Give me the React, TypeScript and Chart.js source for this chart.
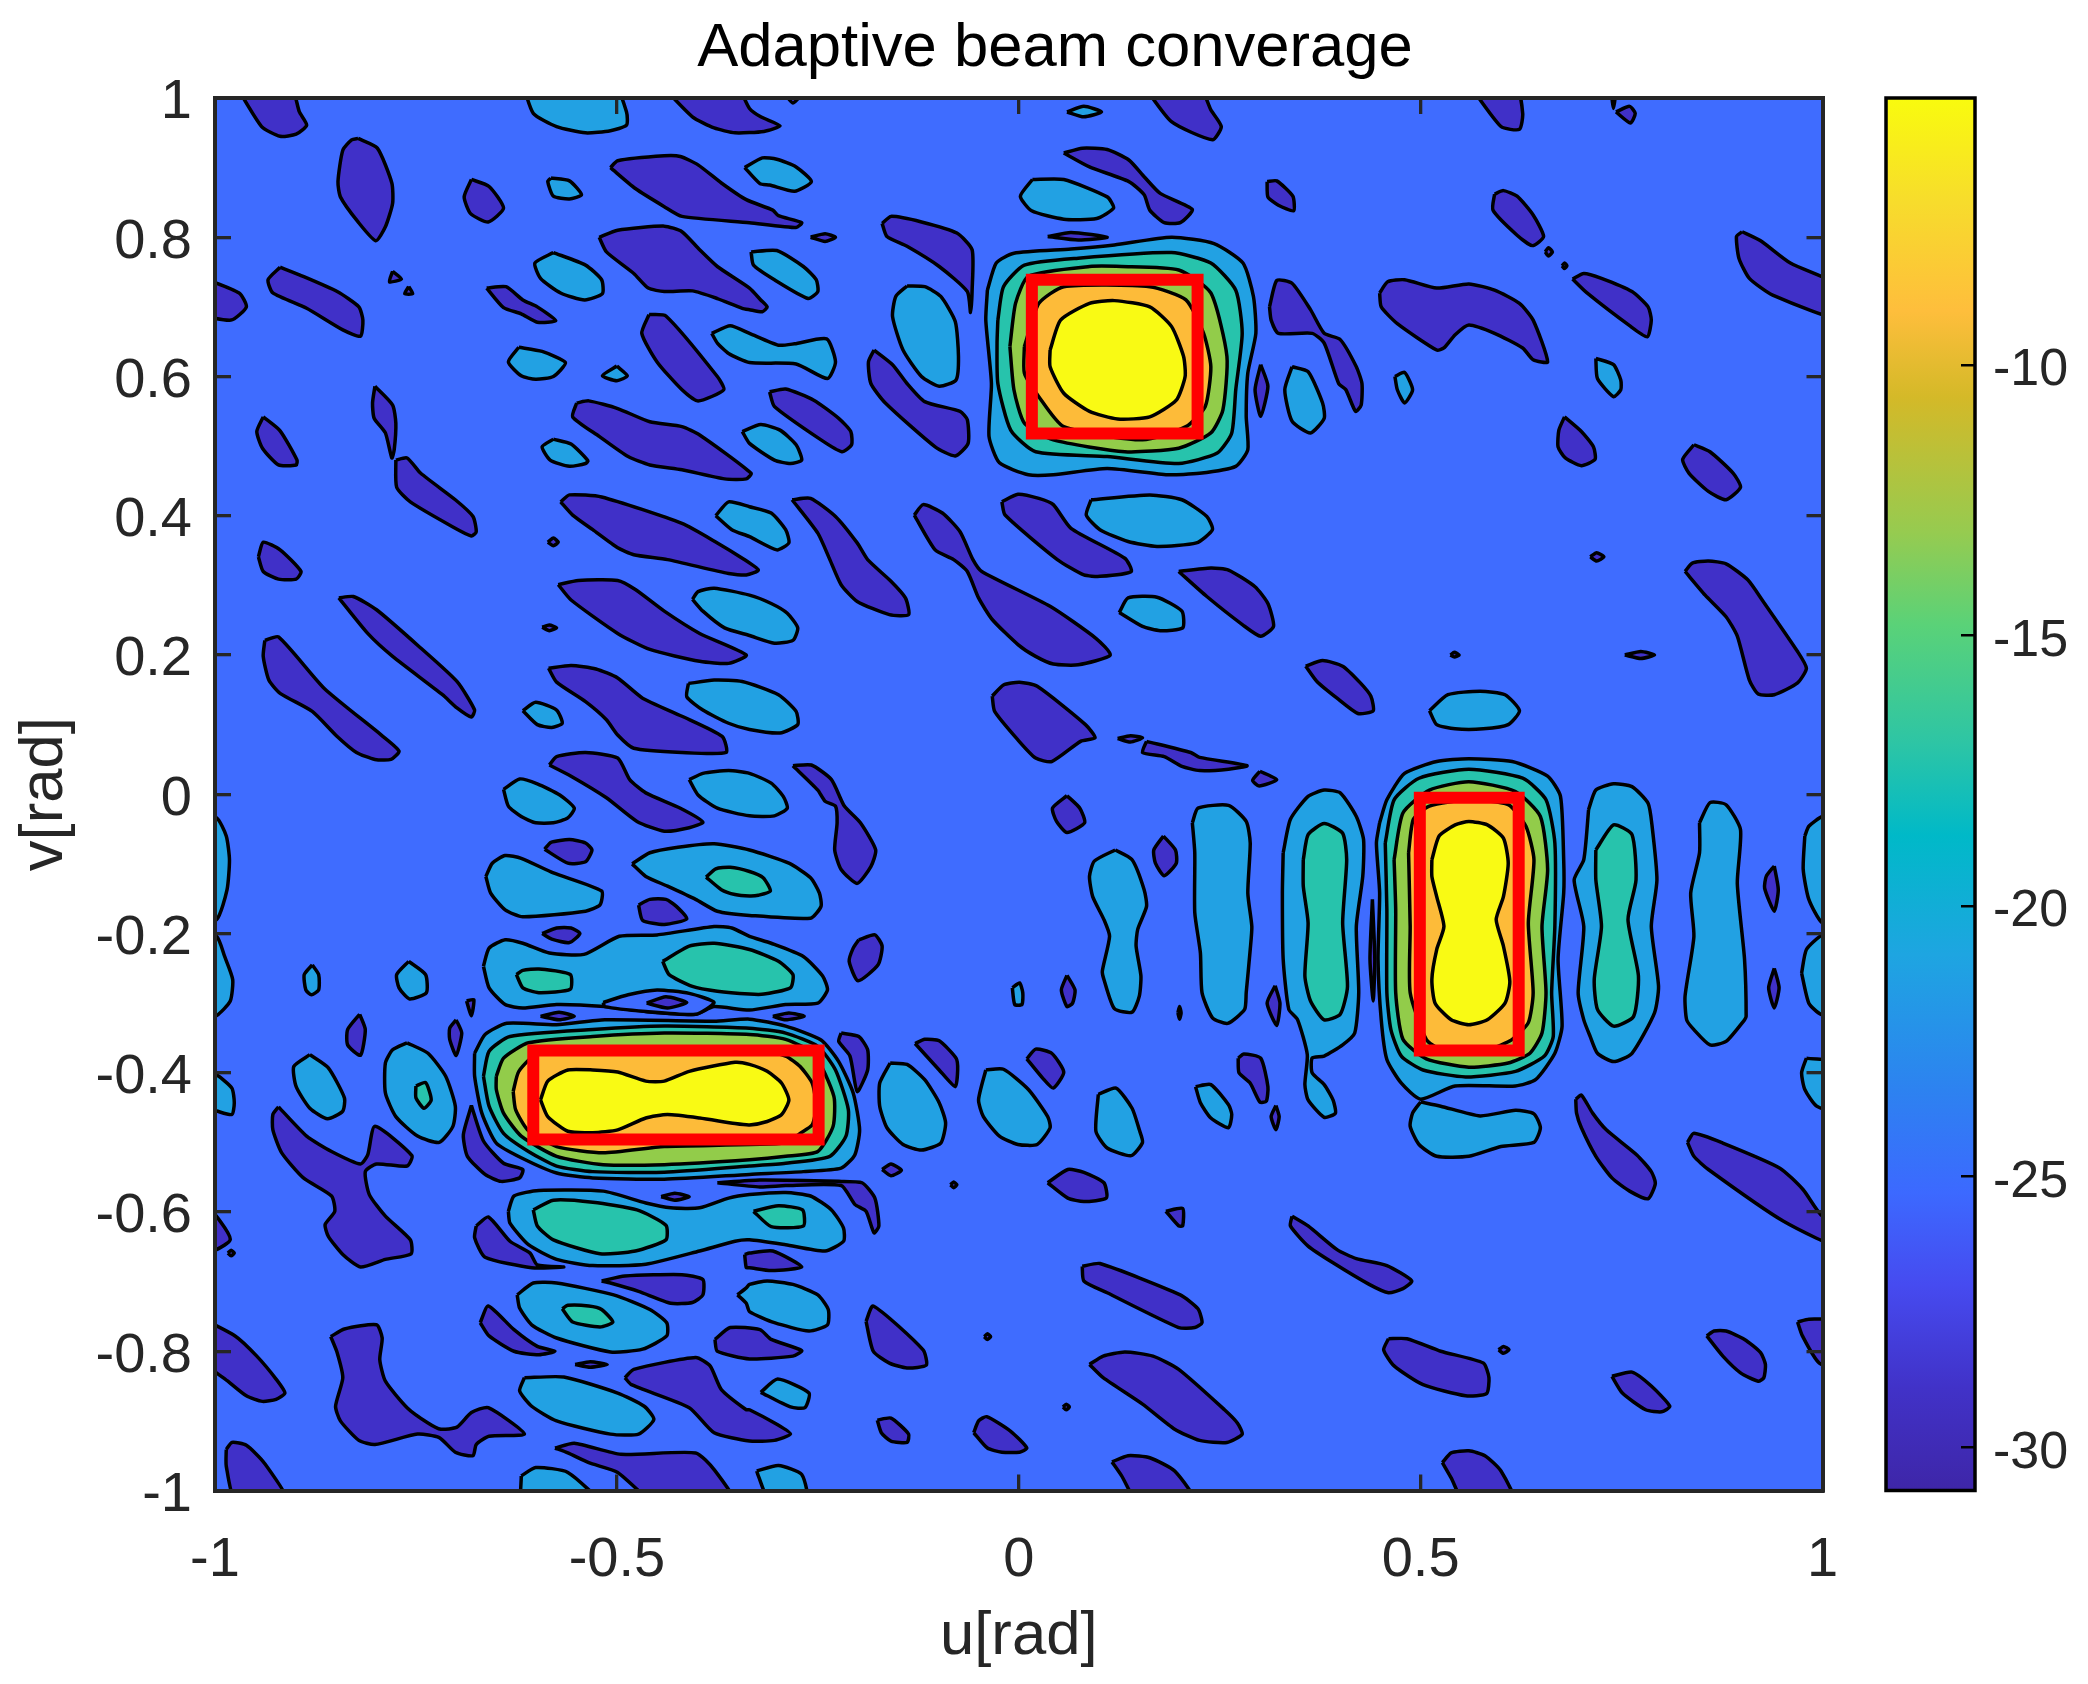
import React, { useEffect, useRef } from "react";
import { Chart, registerables } from "chart.js";

Chart.register(...registerables);

const chartTitle = "Adaptive beam converage";
const xTitle = "u[rad]";
const yTitle = "v[rad]";
const colorbarTicks = [-30, -25, -20, -15, -10];
const colorRange = [-30.8, -5.07];
const colorbarValues = [-30.8, -28.9, -27, -25.3, -23.4, -20.9, -18.7, -17, -14.8, -13.1, -10.6, -9, -7, -5.07];
const colorbarColors = ["#3E26A8", "#4132C8", "#464BF0", "#3C69FF", "#2D82F0", "#1EA5E1", "#00B9C8", "#2DC5A5", "#5AD278", "#96CB50", "#D4B928", "#FEBE3C", "#F7DC2C", "#F9FB0E"];

// Each contour region is a flat list of u, v, u, v ... in radians
const lowRegions: number[][] = [
  [-.975,1.02,-.942,.959,-.919,.945,-.899,.948,-.886,.961,-.895,.980,-.907,1.02],
  [-.822,.942,-.798,.928,-.780,.878,-.779,.849,-.788,.815,-.800,.795,-.822,.822,-.844,.858,-.847,.880,-.841,.925,-.830,.940],
  [-.681,.883,-.659,.873,-.641,.842,-.660,.822,-.682,.834,-.690,.858],
  [-.508,.900,-.499,.910,-.441,.917,-.421,.916,-.399,.904,-.370,.878,-.339,.854,-.306,.839,-.299,.831,-.270,.821,-.277,.814,-.335,.821,-.419,.830,-.441,.844,-.477,.870],
  [-.522,.800,-.499,.810,-.441,.816,-.419,.808,-.397,.782,-.375,.758,-.335,.727,-.321,.710,-.313,.700,-.319,.693,-.335,.696,-.344,.698,-.375,.712,-.406,.723,-.441,.722,-.461,.727,-.479,.748,-.513,.779],
  [-1.03,.748,-.970,.720,-.961,.700,-.980,.681,-1.03,.695],
  [-.919,.757,-.895,.746,-.848,.722,-.821,.700,-.816,.681,-.819,.658,-.841,.667,-.886,.698,-.928,.720,-.934,.739],
  [-.779,.751,-.768,.740,-.783,.736],
  [-.759,.729,-.754,.719,-.764,.719],
  [-.662,.727,-.638,.729,-.617,.710,-.599,.700,-.576,.680,-.599,.678,-.619,.690,-.641,.699],
  [-.460,.689,-.439,.687,-.375,.600,-.367,.581,-.399,.565,-.419,.581,-.450,.621,-.469,.662],
  [-.550,.562,-.535,.565,-.499,.554,-.459,.535,-.419,.528,-.397,.516,-.333,.461,-.339,.453,-.366,.453,-.419,.466,-.459,.473,-.486,.485,-.522,.514,-.555,.542],
  [-.940,.542,-.919,.522,-.898,.480,-.899,.473,-.921,.473,-.941,.497,-.948,.521],
  [-.801,.586,-.779,.559,-.775,.533,-.777,.495,-.780,.483,-.788,.519,-.802,.540,-.804,.562],
  [-.775,.480,-.761,.483,-.744,.461,-.701,.423,-.679,.399,-.675,.377,-.681,.371,-.704,.384,-.757,.420,-.774,.441],
  [-.586,.362,-.579,.368,-.573,.362,-.579,.357],
  [-.570,.420,-.559,.430,-.519,.427,-.419,.389,-.375,.361,-.344,.339,-.324,.322,-.339,.315,-.361,.317,-.437,.337,-.479,.344,-.499,.354,-.530,.380,-.555,.401],
  [-.446,1.02,-.406,.973,-.379,.957,-.353,.950,-.317,.952,-.297,.960,-.321,.973,-.335,.985,-.353,1.02],
  [-.299,1.02,-.281,.993,-.263,1.02],
  [.154,1.02,.190,.966,.241,.940,.252,.959,.239,.983,.223,1.02],
  [.056,.921,.079,.928,.110,.926,.137,.911,.156,.887,.176,.863,.216,.840,.201,.821,.181,.821,.163,.839,.156,.861,.137,.880,.088,.901],
  [.309,.880,.321,.881,.341,.859,.342,.838,.323,.846,.310,.858],
  [.036,.801,.065,.807,.110,.800,.074,.796],
  [-.259,.800,-.241,.805,-.228,.800,-.241,.794],
  [-.170,.820,-.159,.830,-.121,.822,-.077,.806,-.058,.782,-.058,.724,-.060,.692,-.064,.722,-.099,.758,-.139,.787,-.164,.801],
  [-.180,.638,-.157,.617,-.139,.590,-.117,.564,-.073,.550,-.064,.538,-.063,.504,-.079,.486,-.104,.499,-.166,.562,-.184,.590,-.187,.621],
  [-.310,.578,-.290,.582,-.255,.566,-.224,.540,-.209,.521,-.208,.502,-.220,.492,-.246,.509,-.304,.557],
  [-.282,.423,-.259,.425,-.228,.399,-.201,.361,-.188,.337,-.159,.306,-.141,.282,-.137,.258,-.161,.258,-.201,.277,-.221,.301,-.235,.337,-.250,.375],
  [-.130,.401,-.119,.416,-.095,.404,-.073,.377,-.057,.337,-.046,.320,.039,.270,.096,.224,.114,.200,.074,.186,.043,.187,.021,.198,-.001,.215,-.033,.251,-.050,.282,-.064,.320,-.081,.337,-.104,.351],
  [-.021,.420,-.001,.431,.025,.425,.043,.416,.065,.382,.132,.339,.140,.320,.101,.313,.081,.315,.048,.337,-.017,.401],
  [.312,.700,.321,.738,.340,.734,.363,.696,.380,.662,.400,.653,.420,.614,.427,.590,.426,.559,.419,.550,.407,.581,.398,.590,.380,.648,.365,.662,.323,.662,.314,.681],
  [.301,.617,.310,.586,.301,.543,.294,.581],
  [.560,1.02,.600,.959,.623,.955,.627,.978,.618,1.02],
  [.736,1.02,.743,1.02,.740,.985],
  [.743,.980,.760,.988,.767,.978,.761,.964],
  [.592,.862,.603,.867,.620,.859,.640,.832,.653,.801,.639,.788,.620,.803,.590,.839],
  [.655,.779,.659,.785,.664,.779,.659,.773],
  [.676,.759,.679,.763,.682,.759,.679,.755],
  [.449,.720,.459,.736,.480,.739,.520,.727,.560,.733,.592,.724,.623,.705,.640,.681,.658,.621,.640,.624,.627,.641,.592,.662,.560,.674,.543,.660,.529,.641,.520,.638,.471,.676,.451,.700],
  [.689,.740,.703,.748,.725,.741,.763,.722,.783,.700,.787,.681,.782,.657,.760,.673,.707,.720],
  [.900,.808,.923,.795,.960,.763,1.03,.725,1.03,.68,.938,.717,.909,.741,.896,.770,.893,.801],
  [.679,.542,.700,.521,.715,.499,.717,.481,.700,.472,.680,.483,.671,.499,.672,.523],
  [.840,.502,.860,.492,.889,.461,.898,.441,.880,.423,.858,.435,.834,.461,.826,.481],
  [.711,.341,.719,.347,.728,.341,.719,.335],
  [.829,.320,.838,.332,.858,.335,.880,.331,.907,.308,.925,.279,.969,.205,.980,.181,.969,.160,.940,.143,.920,.144,.909,.164,.894,.227,.880,.255,.854,.286],
  [-.946,.341,-.940,.362,-.919,.351,-.893,.320,-.899,.309,-.921,.309,-.940,.320],
  [-.846,.282,-.828,.284,-.799,.265,-.744,.210,-.699,.162,-.677,.121,-.681,.111,-.699,.124,-.717,.143,-.779,.198,-.810,.231],
  [-.938,.221,-.921,.226,-.864,.152,-.793,.085,-.771,.062,-.781,.050,-.801,.050,-.824,.060,-.848,.083,-.879,.119,-.919,.145,-.933,.164,-.940,.198],
  [-.593,.240,-.584,.243,-.575,.239,-.584,.235],
  [-.573,.301,-.548,.307,-.499,.307,-.477,.294,-.441,.263,-.397,.231,-.339,.200,-.361,.188,-.397,.191,-.459,.208,-.499,.231,-.557,.279],
  [-.585,.181,-.557,.185,-.526,.180,-.499,.167,-.468,.138,-.419,.112,-.369,.083,-.364,.060,-.419,.060,-.479,.066,-.499,.085,-.513,.107,-.539,.133,-.575,.161],
  [-.584,.042,-.575,.054,-.539,.060,-.499,.052,-.484,.021,-.464,.002,-.421,-.020,-.393,-.040,-.410,-.048,-.441,-.053,-.475,-.039,-.513,-.005,-.557,.026],
  [-.590,-.079,-.582,-.069,-.559,-.065,-.539,-.070,-.531,-.080,-.539,-.097,-.561,-.099],
  [-.473,-.159,-.459,-.151,-.439,-.151,-.426,-.161,-.413,-.179,-.441,-.187,-.468,-.181],
  [-.593,-.200,-.575,-.192,-.557,-.192,-.546,-.200,-.559,-.213,-.581,-.208],
  [-.687,-.297,-.678,-.295,-.681,-.318],
  [-.463,-.300,-.439,-.291,-.413,-.299,-.437,-.307],
  [-.595,-.319,-.572,-.313,-.553,-.319,-.572,-.324],
  [-.306,-.319,-.286,-.314,-.267,-.319,-.290,-.324],
  [-.820,-.316,-.813,-.338,-.819,-.375,-.835,-.360,-.835,-.338],
  [-.700,-.324,-.693,-.343,-.700,-.375,-.708,-.352,-.708,-.336],
  [-.921,-.449,-.886,-.491,-.855,-.513,-.819,-.531,-.810,-.518,-.801,-.477,-.755,-.519,-.761,-.534,-.799,-.531,-.813,-.542,-.808,-.575,-.788,-.606,-.757,-.640,-.756,-.660,-.788,-.668,-.819,-.679,-.841,-.661,-.859,-.635,-.863,-.618,-.851,-.599,-.855,-.577,-.890,-.551,-.917,-.515,-.928,-.482,-.928,-.460],
  [-.681,-.447,-.666,-.498,-.641,-.530,-.617,-.539,-.621,-.551,-.644,-.556,-.664,-.546,-.686,-.520,-.691,-.489],
  [-1.03,-.56,-.981,-.639,-1.03,-.665],
  [-.984,-.659,-.980,-.655,-.976,-.659,-.980,-.663],
  [-.375,-.558,-.322,-.554,-.224,-.556,-.195,-.558,-.179,-.580,-.174,-.620,-.180,-.630,-.190,-.599,-.204,-.589,-.221,-.562,-.290,-.562,-.322,-.564],
  [-.445,-.578,-.428,-.573,-.410,-.578,-.428,-.583],
  [-.675,-.620,-.660,-.607,-.633,-.642,-.608,-.659,-.599,-.676,-.566,-.679,-.606,-.680,-.664,-.665,-.677,-.637],
  [-.341,-.661,-.335,-.659,-.306,-.656,-.270,-.679,-.308,-.684,-.335,-.680,-.339,-.680],
  [-.519,-.699,-.490,-.692,-.419,-.690,-.393,-.697,-.393,-.719,-.406,-.730,-.433,-.731,-.473,-.714,-.508,-.702],
  [-.670,-.759,-.660,-.735,-.628,-.769,-.599,-.793,-.577,-.800,-.597,-.805,-.628,-.800,-.659,-.778],
  [-.378,-.783,-.359,-.766,-.322,-.769,-.308,-.783,-.270,-.799,-.281,-.807,-.335,-.811,-.375,-.800],
  [-.552,-.819,-.533,-.815,-.512,-.819,-.533,-.823],
  [-.490,-.838,-.479,-.826,-.402,-.809,-.384,-.821,-.370,-.855,-.339,-.884,-.335,-.884,-.301,-.905,-.284,-.919,-.304,-.928,-.335,-.929,-.379,-.917,-.410,-.881,-.482,-.848],
  [-.577,-.939,-.553,-.932,-.495,-.948,-.402,-.946,-.379,-.970,-.353,-1.02,-.450,-1.02,-.499,-.974,-.535,-.960,-.561,-.946],
  [-.986,-.941,-.979,-.931,-.961,-.935,-.939,-.960,-.908,-1.02,-.973,-1.02,-.986,-.965],
  [-1.03,-.745,-.975,-.778,-.948,-.807,-.924,-.840,-.913,-.860,-.924,-.869,-.941,-.872,-.961,-.864,-.984,-.843,-1.03,-.80],
  [-.856,-.779,-.839,-.768,-.799,-.762,-.792,-.781,-.795,-.812,-.788,-.843,-.761,-.881,-.735,-.903,-.719,-.912,-.699,-.909,-.681,-.888,-.660,-.881,-.615,-.919,-.659,-.922,-.675,-.934,-.679,-.950,-.701,-.945,-.721,-.924,-.748,-.919,-.801,-.934,-.821,-.928,-.844,-.900,-.850,-.879,-.841,-.838,-.848,-.802],
  [.199,.320,.239,.325,.261,.322,.294,.298,.310,.274,.317,.241,.301,.227,.279,.243,.234,.284],
  [-.033,.141,-.019,.157,.001,.161,.023,.155,.083,.100,.095,.081,.077,.076,.041,.047,.021,.052,-.001,.078,-.030,.119],
  [.123,.080,.139,.084,.154,.081,.139,.075],
  [.159,.076,.214,.060,.225,.053,.284,.041,.261,.036,.225,.034,.203,.040,.181,.054,.154,.060],
  [.300,.033,.321,.021,.299,.012,.291,.020],
  [.357,.184,.378,.192,.403,.184,.425,.160,.438,.141,.441,.120,.422,.116,.396,.138,.371,.162],
  [-.281,.041,-.258,.042,-.233,.021,-.217,-.017,-.197,-.041,-.178,-.080,-.184,-.104,-.201,-.128,-.221,-.108,-.229,-.080,-.226,-.041,-.228,-.017,-.241,-.010,-.250,.006],
  [.060,-.002,.076,-.020,.082,-.041,.060,-.055,.047,-.039,.042,-.020],
  [.180,-.060,.195,-.080,.196,-.099,.181,-.117,.170,-.099,.168,-.080],
  [.060,-.260,.070,-.281,.067,-.300,.060,-.305,.053,-.281],
  [.198,-.314,.200,-.305,.202,-.314,.200,-.323],
  [.319,-.275,.325,-.300,.321,-.332,.309,-.300],
  [-.199,-.209,-.179,-.202,-.170,-.218,-.175,-.245,-.200,-.268,-.211,-.240,-.206,-.221],
  [-.221,-.343,-.199,-.348,-.188,-.367,-.188,-.396,-.201,-.427,-.210,-.376,-.224,-.355],
  [-.129,-.358,-.117,-.352,-.099,-.354,-.078,-.379,-.076,-.396,-.079,-.420,-.099,-.396],
  [.010,-.380,.021,-.366,.041,-.372,.056,-.399,.043,-.422,.030,-.408],
  [-.170,-.539,-.159,-.531,-.146,-.540,-.159,-.548],
  [-.085,-.561,-.081,-.557,-.077,-.561,-.081,-.565],
  [.036,-.558,.061,-.539,.081,-.543,.106,-.558,.109,-.580,.081,-.585,.061,-.580],
  [.183,-.599,.204,-.595,.204,-.620,.199,-.620],
  [.273,-.379,.280,-.373,.301,-.379,.310,-.420,.308,-.441,.300,-.442,.288,-.415,.274,-.400],
  [.320,-.447,.324,-.463,.320,-.482,.314,-.463],
  [.079,-.678,.101,-.674,.201,-.719,.223,-.739,.228,-.759,.219,-.766,.199,-.766,.110,-.716,.081,-.699],
  [-.190,-.757,-.181,-.735,-.119,-.798,-.115,-.820,-.139,-.824,-.161,-.817,-.181,-.800],
  [-.043,-.779,-.039,-.775,-.035,-.779,-.039,-.783],
  [.055,-.880,.059,-.876,.063,-.880,.059,-.884],
  [.088,-.819,.105,-.807,.132,-.801,.167,-.807,.199,-.826,.256,-.884,.272,-.903,.278,-.919,.259,-.931,.225,-.928,.194,-.912,.154,-.876,.105,-.838],
  [.116,-.959,.136,-.950,.163,-.953,.194,-.972,.221,-1.02,.150,-1.02,.128,-.979],
  [-.056,-.917,-.050,-.900,-.040,-.894,-.010,-.915,.010,-.939,.001,-.945,-.021,-.945,-.039,-.939],
  [-.176,-.899,-.159,-.896,-.137,-.919,-.139,-.931,-.159,-.929,-.171,-.917],
  [.340,-.606,.360,-.620,.396,-.654,.420,-.667,.458,-.677,.489,-.699,.478,-.710,.460,-.716,.436,-.704,.391,-.673,.360,-.649,.338,-.620],
  [.460,-.782,.483,-.782,.525,-.800,.578,-.817,.585,-.838,.582,-.861,.556,-.864,.503,-.848,.467,-.821,.454,-.798],
  [.597,-.798,.603,-.793,.610,-.798,.603,-.803],
  [.693,-.438,.700,-.432,.714,-.458,.731,-.482,.769,-.518,.787,-.542,.792,-.559,.783,-.581,.760,-.570,.738,-.551,.718,-.520,.700,-.479,.694,-.458],
  [.832,-.500,.840,-.487,.876,-.501,.947,-.537,.976,-.568,1.0,-.606,1.03,-.611,1.03,-.654,.951,-.613,.858,-.539,.840,-.520],
  [.856,-.778,.865,-.771,.880,-.771,.903,-.783,.923,-.802,.929,-.819,.927,-.838,.920,-.843,.898,-.831,.876,-.807],
  [.738,-.836,.763,-.830,.787,-.850,.810,-.879,.800,-.887,.780,-.884,.751,-.860],
  [.969,-.758,.983,-.754,1.03,-.758,1.03,-.826,.996,-.817,.975,-.778],
  [.527,-.960,.538,-.946,.560,-.943,.580,-.950,.600,-.972,.618,-1.02,.556,-1.02,.538,-.982],
  [.440,-.151,.443,-.237,.441,-.297,.437,-.237],
  [.940,-.103,.945,-.137,.940,-.168,.928,-.135,.930,-.118],
  [.940,-.250,.946,-.278,.940,-.307,.933,-.278],
  [.754,.200,.774,.205,.791,.200,.774,.195],
  [.537,.200,.542,.204,.548,.200,.542,.197],
];

const level25Regions: number[][] = [
  [-.582,.885,-.559,.881,-.544,.861,-.559,.855,-.579,.859,-.586,.880],
  [-.341,.900,-.319,.914,-.301,.912,-.277,.901,-.258,.880,-.279,.866,-.310,.875,-.322,.877],
  [-.333,.779,-.301,.781,-.268,.758,-.252,.739,-.250,.722,-.262,.712,-.304,.739,-.330,.760],
  [-.579,.778,-.539,.760,-.519,.739,-.518,.719,-.540,.710,-.570,.720,-.595,.741,-.602,.763],
  [-.382,.662,-.359,.673,-.335,.662,-.299,.645,-.279,.647,-.239,.654,-.228,.621,-.238,.597,-.277,.618,-.335,.620,-.361,.633,-.375,.648],
  [-.622,.642,-.593,.636,-.564,.620,-.579,.600,-.601,.596,-.619,.601,-.635,.621],
  [-.500,.615,-.487,.601,-.500,.594,-.518,.601],
  [-.579,.510,-.557,.503,-.536,.479,-.539,.475,-.559,.471,-.583,.480,-.593,.499],
  [-.344,.521,-.321,.531,-.297,.523,-.277,.502,-.270,.480,-.284,.475,-.304,.480,-.335,.504],
  [-.377,.400,-.361,.420,-.335,.413,-.308,.404,-.290,.380,-.286,.361,-.301,.351,-.335,.370,-.357,.380],
  [-.617,1.02,-.604,.978,-.575,.959,-.539,.950,-.508,.953,-.488,.961,-.488,.980,-.504,1.02],
  [.060,.980,.081,.988,.103,.980,.081,.973],
  [.017,.883,.056,.883,.110,.858,.118,.842,.097,.827,.056,.826,.016,.838,.002,.859],
  [-.039,.724,-.028,.763,-.006,.777,.065,.783,.119,.789,.190,.800,.243,.791,.279,.763,.292,.715,.295,.662,.285,.605,.283,.543,.285,.495,.270,.471,.225,.461,.185,.459,.110,.468,.043,.459,.012,.459,-.024,.476,-.037,.514,-.034,.590,-.041,.681],
  [-.139,.730,-.117,.729,-.097,.715,-.079,.679,-.075,.629,-.078,.595,-.099,.586,-.121,.600,-.144,.638,-.157,.686,-.153,.715],
  [.090,.423,.163,.430,.203,.423,.234,.399,.241,.380,.221,.361,.172,.356,.136,.363,.101,.380,.084,.401],
  [.340,.614,.360,.607,.378,.562,.380,.540,.363,.519,.340,.536,.331,.581],
  [.468,.600,.480,.606,.490,.581,.480,.562,.471,.581],
  [.718,.626,.740,.617,.749,.595,.749,.581,.740,.571,.720,.597],
  [-.406,.280,-.399,.291,-.379,.296,-.335,.286,-.308,.274,-.288,.260,-.275,.239,-.281,.221,-.304,.217,-.335,.228,-.366,.239,-.393,.263],
  [-.411,.159,-.379,.164,-.344,.162,-.299,.143,-.277,.119,-.275,.100,-.297,.088,-.335,.093,-.361,.102,-.393,.121,-.413,.140],
  [-.617,.120,-.601,.132,-.575,.121,-.568,.102,-.581,.096,-.599,.100],
  [-.410,.021,-.393,.030,-.361,.034,-.335,.030,-.308,.016,-.293,-.003,-.288,-.020,-.304,-.031,-.335,-.031,-.375,-.020,-.399,-.001],
  [-.641,.007,-.621,.022,-.599,.015,-.571,-.001,-.553,-.020,-.561,-.034,-.579,-.041,-.601,-.041,-.619,-.032,-.635,-.017],
  [-.663,-.118,-.655,-.099,-.639,-.088,-.619,-.092,-.579,-.113,-.519,-.139,-.521,-.159,-.539,-.168,-.617,-.176,-.639,-.166,-.657,-.142],
  [-.481,-.100,-.459,-.084,-.424,-.076,-.379,-.071,-.335,-.080,-.286,-.099,-.259,-.120,-.248,-.142,-.246,-.161,-.259,-.178,-.335,-.174,-.375,-.168,-.402,-.151,-.437,-.132,-.464,-.118],
  [-1.03,-.025,-.998,-.034,-.986,-.060,-.982,-.094,-.985,-.137,-.998,-.180,-1.03,-.19],
  [-1.03,-.195,-.998,-.204,-.988,-.233,-.978,-.266,-.981,-.297,-.998,-.318,-1.03,-.335],
  [-.879,-.245,-.871,-.259,-.871,-.281,-.880,-.288,-.887,-.281,-.889,-.259],
  [-.759,-.240,-.738,-.259,-.737,-.285,-.758,-.294,-.771,-.278,-.774,-.259],
  [-.666,-.247,-.659,-.221,-.639,-.209,-.617,-.214,-.584,-.228,-.541,-.230,-.497,-.204,-.450,-.202,-.379,-.190,-.357,-.192,-.335,-.204,-.308,-.214,-.268,-.233,-.244,-.261,-.238,-.281,-.250,-.300,-.290,-.302,-.335,-.310,-.379,-.305,-.402,-.316,-.464,-.312,-.515,-.305,-.575,-.302,-.617,-.307,-.639,-.302,-.659,-.278],
  [-.677,-.372,-.664,-.345,-.637,-.329,-.575,-.331,-.515,-.324,-.379,-.326,-.335,-.323,-.290,-.333,-.246,-.353,-.224,-.384,-.206,-.429,-.198,-.482,-.204,-.518,-.221,-.537,-.268,-.542,-.335,-.546,-.441,-.553,-.530,-.551,-.575,-.544,-.619,-.522,-.650,-.501,-.668,-.458,-.677,-.405],
  [-1.03,-.385,-.998,-.403,-.979,-.422,-.976,-.443,-.979,-.460,-.998,-.455,-1.03,-.445],
  [-.882,-.374,-.859,-.393,-.839,-.436,-.841,-.455,-.860,-.466,-.882,-.451,-.899,-.420,-.902,-.391],
  [-.761,-.357,-.735,-.372,-.713,-.405,-.701,-.448,-.704,-.477,-.721,-.500,-.748,-.491,-.775,-.463,-.788,-.429,-.788,-.386,-.779,-.367],
  [-.635,-.599,-.628,-.577,-.597,-.569,-.517,-.570,-.464,-.587,-.433,-.594,-.397,-.594,-.361,-.580,-.335,-.575,-.290,-.572,-.259,-.577,-.233,-.597,-.218,-.623,-.218,-.642,-.241,-.656,-.290,-.647,-.335,-.640,-.353,-.642,-.397,-.656,-.464,-.675,-.530,-.677,-.575,-.668,-.610,-.647,-.633,-.616],
  [-.624,-.719,-.604,-.702,-.575,-.702,-.504,-.719,-.459,-.740,-.438,-.759,-.438,-.778,-.468,-.797,-.508,-.801,-.575,-.781,-.606,-.762,-.621,-.738],
  [-.350,-.719,-.339,-.709,-.335,-.704,-.313,-.699,-.281,-.704,-.250,-.719,-.237,-.740,-.238,-.762,-.261,-.771,-.304,-.759,-.335,-.743,-.339,-.731],
  [-.615,-.838,-.566,-.837,-.499,-.860,-.466,-.879,-.454,-.898,-.473,-.919,-.508,-.919,-.575,-.900,-.606,-.879,-.621,-.857],
  [-.321,-.859,-.300,-.840,-.261,-.860,-.266,-.881,-.284,-.880],
  [-.326,-.972,-.299,-.964,-.270,-.977,-.263,-1.02,-.308,-1.02,-.324,-.979],
  [-.619,-.979,-.601,-.967,-.561,-.974,-.521,-1.02,-.617,-1.02],
  [.125,.261,.136,.282,.172,.283,.203,.263,.204,.239,.176,.235,.154,.241],
  [.120,-.080,.141,-.094,.156,-.137,.159,-.161,.148,-.194,.146,-.218,.152,-.261,.150,-.290,.141,-.313,.119,-.308,.106,-.266,.104,-.254,.113,-.204,.106,-.180,.092,-.147,.088,-.118,.094,-.096],
  [.216,-.041,.223,-.020,.261,-.016,.283,-.039,.288,-.070,.285,-.142,.290,-.190,.288,-.223,.283,-.285,.281,-.309,.260,-.329,.241,-.321,.228,-.285,.226,-.228,.219,-.170,.219,-.084],
  [-.008,-.278,.001,-.271,.005,-.285,.004,-.302,-.005,-.302],
  [-.160,-.386,-.139,-.388,-.117,-.410,-.099,-.443,-.091,-.472,-.097,-.501,-.121,-.511,-.144,-.503,-.164,-.479,-.173,-.448,-.173,-.415],
  [-.041,-.396,-.019,-.395,.012,-.424,.036,-.463,.039,-.479,.023,-.503,-.001,-.503,-.024,-.491,-.044,-.463,-.050,-.439],
  [.099,-.431,.121,-.422,.141,-.451,.150,-.482,.154,-.500,.140,-.519,.110,-.508,.096,-.484],
  [.220,-.420,.239,-.417,.261,-.446,.265,-.460,.261,-.479,.239,-.465,.226,-.443],
  [.980,-.379,1.03,-.388,1.03,-.458,.993,-.448,.978,-.424,.974,-.400],
  [.500,-.442,.525,-.448,.574,-.462,.618,-.454,.641,-.459,.649,-.479,.641,-.500,.600,-.506,.560,-.520,.520,-.520,.498,-.503,.487,-.477,.490,-.458],
  [.449,-.041,.458,-.008,.480,.030,.520,.047,.560,.051,.614,.047,.658,.026,.674,-.003,.678,-.094,.678,-.142,.671,-.237,.676,-.333,.667,-.372,.643,-.410,.618,-.419,.543,-.419,.500,-.438,.476,-.415,.458,-.381,.451,-.324,.447,-.237,.449,-.142,.445,-.070],
  [.329,-.084,.338,-.036,.360,-.003,.380,.006,.400,.002,.420,-.032,.429,-.065,.428,-.118,.420,-.190,.423,-.285,.418,-.343,.403,-.360,.380,-.376,.365,-.379,.365,-.400,.380,-.417,.391,-.439,.394,-.458,.380,-.464,.360,-.439,.356,-.417,.359,-.374,.347,-.324,.336,-.309,.329,-.237,.328,-.142],
  [.709,-.022,.718,.006,.740,.015,.763,.011,.783,-.013,.788,-.046,.794,-.123,.787,-.190,.796,-.276,.791,-.314,.763,-.372,.740,-.384,.720,-.372,.711,-.348,.703,-.324,.696,-.285,.703,-.190,.691,-.123,.703,-.094],
  [.847,-.041,.860,-.012,.880,-.015,.898,-.051,.894,-.128,.903,-.237,.905,-.319,.903,-.324,.880,-.355,.860,-.360,.840,-.338,.831,-.324,.829,-.290,.840,-.204,.836,-.142,.847,-.084],
  [.978,-.060,.983,-.046,1.0,-.032,1.03,-.029,1.03,-.185,1.0,-.185,.983,-.151,.976,-.108],
  [.974,-.257,.980,-.223,1.0,-.202,1.03,-.197,1.03,-.321,.998,-.316,.983,-.300],
  [.511,.120,.534,.143,.574,.148,.605,.143,.623,.120,.609,.100,.578,.094,.543,.094,.520,.100],
];

const channelRegions: number[][] = [
  [-.517,-.299,-.486,-.288,-.450,-.281,-.410,-.286,-.379,-.299,-.402,-.316,-.464,-.312,-.515,-.305],
];

const level20Regions: number[][] = [
  [-.026,.681,-.019,.729,.007,.760,.074,.770,.190,.778,.239,.763,.270,.724,.278,.662,.270,.581,.265,.519,.247,.490,.199,.475,.110,.485,.021,.492,-.010,.523,-.026,.590,-.027,.648],
  [-.625,-.259,-.617,-.253,-.597,-.251,-.558,-.259,-.558,-.280,-.597,-.285,-.617,-.278],
  [-.443,-.240,-.410,-.218,-.379,-.214,-.335,-.223,-.299,-.240,-.281,-.259,-.284,-.278,-.317,-.287,-.335,-.287,-.375,-.283,-.406,-.276,-.435,-.259],
  [-.389,-.119,-.377,-.107,-.359,-.105,-.335,-.111,-.318,-.120,-.309,-.139,-.324,-.145,-.335,-.146,-.353,-.144,-.370,-.137],
  [-.666,-.405,-.659,-.369,-.633,-.348,-.530,-.338,-.441,-.333,-.335,-.336,-.290,-.343,-.250,-.362,-.228,-.396,-.212,-.453,-.215,-.491,-.235,-.520,-.290,-.530,-.335,-.534,-.441,-.543,-.530,-.542,-.575,-.534,-.610,-.513,-.641,-.487,-.659,-.448],
  [-.750,-.419,-.738,-.414,-.731,-.439,-.740,-.451,-.750,-.436],
  [-.604,-.597,-.579,-.583,-.530,-.586,-.475,-.597,-.439,-.619,-.439,-.640,-.477,-.656,-.521,-.660,-.579,-.640,-.599,-.620],
  [-.330,-.599,-.299,-.591,-.269,-.597,-.268,-.620,-.308,-.621],
  [-.568,-.739,-.561,-.734,-.535,-.735,-.519,-.740,-.505,-.758,-.521,-.765,-.555,-.758],
  [.456,-.070,.467,-.008,.498,.023,.560,.036,.627,.023,.656,-.008,.667,-.070,.667,-.190,.663,-.285,.665,-.348,.654,-.376,.618,-.398,.556,-.406,.503,-.396,.476,-.376,.463,-.338,.458,-.285,.458,-.166],
  [.354,-.094,.360,-.058,.380,-.042,.403,-.056,.408,-.094,.403,-.185,.409,-.276,.400,-.316,.380,-.324,.363,-.297,.356,-.261,.360,-.185,.354,-.132],
  [.718,-.080,.740,-.044,.763,-.058,.768,-.123,.758,-.180,.771,-.261,.765,-.319,.740,-.333,.720,-.309,.716,-.266,.725,-.190,.718,-.123],
];

const level15Regions: number[][] = [
  [-.011,.643,-.004,.705,.012,.744,.088,.758,.128,.758,.199,.753,.239,.720,.259,.629,.254,.552,.239,.519,.199,.497,.132,.492,.043,.509,.007,.533,-.006,.581],
  [-.650,-.405,-.641,-.379,-.610,-.357,-.530,-.348,-.441,-.343,-.335,-.345,-.290,-.352,-.254,-.374,-.230,-.434,-.231,-.477,-.250,-.513,-.290,-.520,-.335,-.525,-.441,-.532,-.517,-.532,-.575,-.520,-.619,-.491,-.641,-.458,-.650,-.424],
  [.467,-.094,.478,-.027,.511,.006,.560,.018,.618,.004,.649,-.032,.658,-.108,.651,-.190,.656,-.285,.651,-.343,.636,-.372,.609,-.386,.560,-.392,.507,-.380,.478,-.352,.469,-.285,.469,-.166],
];

const level10Regions: number[][] = [
  [.007,.643,.025,.705,.056,.729,.163,.729,.208,.710,.230,.662,.239,.614,.232,.557,.208,.528,.154,.509,.056,.528,.025,.571,.007,.605],
  [-.629,-.427,-.622,-.398,-.597,-.372,-.322,-.367,-.290,-.376,-.272,-.391,-.257,-.415,-.252,-.448,-.257,-.475,-.272,-.487,-.290,-.501,-.441,-.506,-.517,-.515,-.575,-.506,-.611,-.482,-.626,-.453],
  [.485,-.084,.491,-.036,.511,-.017,.560,-.008,.609,-.015,.631,-.046,.641,-.094,.634,-.185,.640,-.285,.634,-.328,.614,-.352,.596,-.362,.560,-.372,.525,-.367,.507,-.352,.487,-.285,.487,-.190],
];

const level5Regions: number[][] = [
  [.039,.638,.052,.681,.088,.705,.119,.709,.163,.700,.190,.672,.205,.629,.207,.600,.196,.566,.163,.542,.123,.539,.088,.550,.056,.576,.039,.614],
  [-.595,-.439,-.586,-.412,-.561,-.396,-.530,-.396,-.499,-.399,-.464,-.412,-.441,-.412,-.410,-.398,-.353,-.385,-.335,-.388,-.313,-.398,-.295,-.415,-.286,-.439,-.295,-.460,-.313,-.470,-.335,-.475,-.353,-.473,-.397,-.465,-.437,-.460,-.464,-.465,-.499,-.482,-.530,-.486,-.561,-.484,-.586,-.463],
  [.514,-.094,.523,-.060,.543,-.044,.560,-.039,.583,-.044,.603,-.063,.609,-.099,.603,-.147,.594,-.180,.603,-.218,.611,-.269,.605,-.300,.583,-.324,.560,-.331,.538,-.324,.518,-.300,.514,-.266,.520,-.223,.529,-.190,.520,-.147,.514,-.118],
];

// u min, v min, u max, v max of each subarray sector
const sectorBoxes: number[][] = [
  [.0163, .518, .2225, .739],
  [-.604, -.496, -.249, -.368],
  [.499, -.368, .622, -.005],
];

const BG = "#3F6CFF";
const INK = "#262626";
const TICK_FONT = { family: "'Liberation Sans', Arial, sans-serif", size: 56 };
const LABEL_FONT = { family: "'Liberation Sans', Arial, sans-serif", size: 61.6 };

function toPoints(flat: number[]) {
  const pts: { x: number; y: number }[] = [];
  for (let i = 0; i + 1 < flat.length; i += 2) pts.push({ x: flat[i], y: flat[i + 1] });
  pts.push({ x: flat[0], y: flat[1] });
  return pts;
}

function regionSets(regions: number[][], color: string) {
  return regions.map((r) => ({
    data: toPoints(r),
    showLine: true,
    filled: true,
    backgroundColor: color,
    borderColor: "#000000",
    borderWidth: 3.5,
    borderJoinStyle: "round",
    tension: 0.2,
    capBezierPoints: false,
    pointRadius: 0,
    pointHoverRadius: 0,
  }));
}

const contourFill = {
  id: "contourFill",
  beforeDatasetsDraw(chart: any) {
    const { ctx, chartArea: a } = chart;
    ctx.save();
    ctx.fillStyle = BG;
    ctx.fillRect(a.left, a.top, a.right - a.left, a.bottom - a.top);
    ctx.restore();
  },
  beforeDatasetDraw(chart: any, args: any) {
    const ds = chart.data.datasets[args.index];
    if (!ds.filled || !args.meta.dataset) return;
    const { ctx, chartArea: a } = chart;
    ctx.save();
    ctx.beginPath();
    ctx.rect(a.left, a.top, a.right - a.left, a.bottom - a.top);
    ctx.clip();
    args.meta.dataset.updateControlPoints(a);
    ctx.beginPath();
    args.meta.dataset.path(ctx);
    ctx.closePath();
    ctx.fillStyle = ds.backgroundColor;
    ctx.fill();
    ctx.restore();
  },
};

const colorbarFrame = {
  id: "colorbarFrame",
  afterDraw(chart: any) {
    const { ctx, chartArea: a } = chart;
    ctx.save();
    ctx.strokeStyle = "#000000";
    ctx.lineWidth = 3.5;
    ctx.strokeRect(a.left, a.top, a.right - a.left, a.bottom - a.top);
    ctx.restore();
  },
};

const numberLabel = (v: any) => String(+Number(v).toFixed(2));

function edgeGrid(len: number, width: number, color: string) {
  return { display: true, drawOnChartArea: false, drawTicks: true, tickLength: len, tickWidth: width, tickColor: color, lineWidth: width, z: 1 };
}

export default function App() {
  const mainRef = useRef<HTMLCanvasElement>(null);
  const barRef = useRef<HTMLCanvasElement>(null);

  useEffect(() => {
    const sets: any[] = [
      ...regionSets(level25Regions, "#22A1E3"),
      ...regionSets(channelRegions, BG),
      ...regionSets(lowRegions, "#4030C8"),
      ...regionSets(level20Regions, "#27C3AC"),
      ...regionSets(level15Regions, "#92CC4A"),
      ...regionSets(level10Regions, "#FDBB39"),
      ...regionSets(level5Regions, "#F9FA14"),
      ...sectorBoxes.map(([u0, v0, u1, v1]) => ({
        data: [{ x: u0, y: v0 }, { x: u1, y: v0 }, { x: u1, y: v1 }, { x: u0, y: v1 }, { x: u0, y: v0 }],
        showLine: true,
        borderColor: "#FF0000",
        borderWidth: 12,
        borderJoinStyle: "miter",
        borderCapStyle: "square",
        tension: 0,
        pointRadius: 0,
        pointHoverRadius: 0,
      })),
    ];
    sets.forEach((d, i) => (d.order = -i));

    const main = new Chart(mainRef.current as HTMLCanvasElement, {
      type: "scatter",
      data: { datasets: sets },
      plugins: [contourFill],
      options: {
        responsive: false,
        animation: false,
        events: [],
        layout: { padding: 0 },
        plugins: {
          legend: { display: false },
          tooltip: { enabled: false },
          title: { display: true, text: chartTitle, color: "#000000", font: { ...LABEL_FONT, weight: "normal" }, padding: { top: 12.5, bottom: 11.6 } },
        },
        scales: {
          x: {
            type: "linear", position: "bottom", min: -1, max: 1,
            afterFit: (s: any) => { s.height = 193.5; },
            ticks: { stepSize: 0.5, autoSkip: false, maxRotation: 0, padding: 52.5, color: INK, font: TICK_FONT, callback: numberLabel },
            grid: edgeGrid(-16, 3.3, INK),
            border: { display: true, color: INK, width: 4, z: 1 },
            title: { display: true, text: xTitle, color: INK, font: LABEL_FONT, padding: { top: 0, bottom: 10 } },
          },
          y: {
            type: "linear", position: "left", min: -1, max: 1,
            afterFit: (s: any) => { s.width = 215; },
            ticks: { stepSize: 0.2, autoSkip: false, padding: 39, labelOffset: 5, color: INK, font: TICK_FONT, callback: numberLabel },
            grid: edgeGrid(-16, 3.3, INK),
            border: { display: true, color: INK, width: 4, z: 1 },
            title: { display: true, text: yTitle, color: INK, font: LABEL_FONT, padding: { top: 8, bottom: 0 } },
          },
          xTop: {
            type: "linear", position: "top", min: -1, max: 1,
            afterFit: (s: any) => { s.height = 0; },
            ticks: { stepSize: 0.5, autoSkip: false, display: false },
            grid: edgeGrid(-16, 3.3, INK),
            border: { display: true, color: INK, width: 4, z: 1 },
          },
          yRight: {
            type: "linear", position: "right", min: -1, max: 1,
            afterFit: (s: any) => { s.width = 287.5; },
            ticks: { stepSize: 0.2, autoSkip: false, display: false },
            grid: edgeGrid(-16, 3.3, INK),
            border: { display: true, color: INK, width: 4, z: 1 },
          },
        },
      } as any,
    });

    const bar = new Chart(barRef.current as HTMLCanvasElement, {
      type: "bar",
      data: {
        labels: ["dB"],
        datasets: [{
          data: [[colorRange[0], colorRange[1]]],
          barPercentage: 1,
          categoryPercentage: 1,
          borderWidth: 0,
          backgroundColor: (c: any) => {
            const { ctx, chartArea } = c.chart;
            if (!chartArea) return "transparent";
            const g = ctx.createLinearGradient(0, chartArea.bottom, 0, chartArea.top);
            colorbarValues.forEach((v, i) => g.addColorStop((v - colorRange[0]) / (colorRange[1] - colorRange[0]), colorbarColors[i]));
            return g;
          },
        }],
      } as any,
      plugins: [colorbarFrame],
      options: {
        responsive: false,
        animation: false,
        events: [],
        layout: { padding: { left: 56, right: 0, top: 98, bottom: 193.5 } },
        plugins: { legend: { display: false }, tooltip: { enabled: false } },
        scales: {
          x: { display: false },
          y: {
            position: "right", min: colorRange[0], max: colorRange[1],
            afterBuildTicks: (s: any) => { s.ticks = colorbarTicks.map((value) => ({ value })); },
            afterFit: (s: any) => { s.width = 113; },
            ticks: { autoSkip: false, padding: 32, labelOffset: 6, color: INK, font: { ...TICK_FONT, size: 52 }, callback: numberLabel },
            grid: edgeGrid(-14, 2.5, "#000000"),
            border: { display: false },
          },
        },
      } as any,
    });

    return () => {
      main.destroy();
      bar.destroy();
    };
  }, []);

  return (
    <div style={{ position: "absolute", left: 0, top: 0, width: 2088, height: 1684, overflow: "hidden", background: "#ffffff" }}>
      <canvas ref={mainRef} width={2110} height={1684} style={{ position: "absolute", left: 0, top: 0, width: 2110, height: 1684 }} />
      <canvas ref={barRef} width={258} height={1684} style={{ position: "absolute", left: 1830, top: 0, width: 258, height: 1684 }} />
    </div>
  );
}
